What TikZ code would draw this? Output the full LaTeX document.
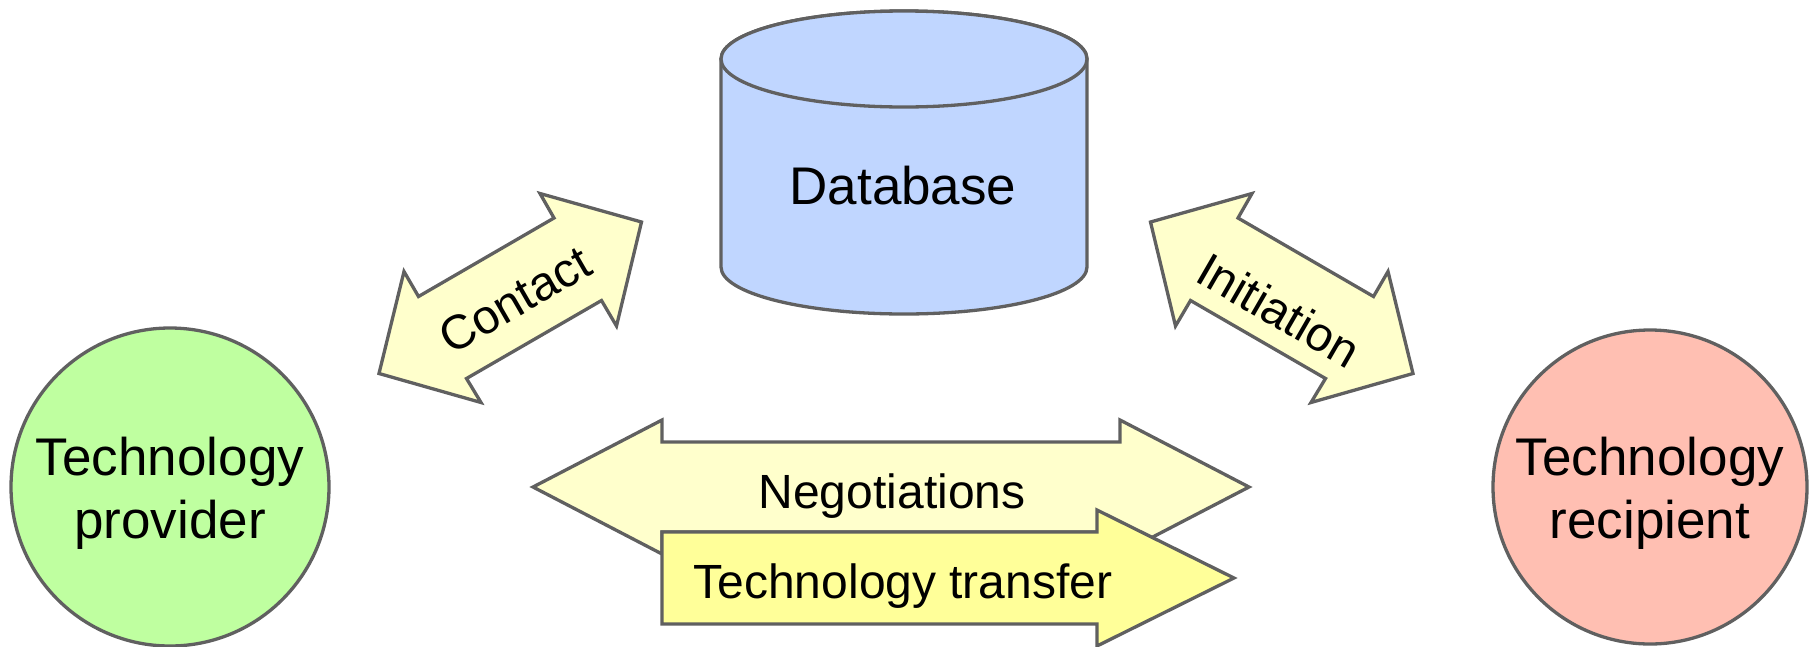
\documentclass[tikz,border=0pt]{standalone}
\usepackage{fontspec}
\setmainfont{Liberation Sans}
\definecolor{strk}{RGB}{96,96,96}
\definecolor{provgreen}{RGB}{191,255,160}
\definecolor{recsalmon}{RGB}{255,191,178}
\definecolor{dbblue}{RGB}{192,214,255}
\definecolor{lightyel}{RGB}{255,255,204}
\definecolor{strongyel}{RGB}{255,255,153}
\begin{document}
\begin{tikzpicture}[x=1pt,y=-1pt,
  shp/.style={draw=strk, line width=3.3pt, line join=miter},
  bigtxt/.style={font=\fontsize{53}{63}\selectfont, inner sep=0pt},
  armtxt/.style={font=\fontsize{48}{58}\selectfont, inner sep=0pt}]
\useasboundingbox (0,0) rectangle (1809,646);

% circles
\node[shp, circle, fill=provgreen, minimum size=318pt, inner sep=0pt] (prov) at (170,487) {};
\node[shp, circle, fill=recsalmon, minimum size=314pt, inner sep=0pt] (rec) at (1650,487) {};
\node[bigtxt, anchor=base] (provA) at (170,475) {Technology};
\node[bigtxt, anchor=base] (provB) at (170,538) {provider};
\node[bigtxt, anchor=base] (recA) at (1650,475) {Technology};
\node[bigtxt, anchor=base] (recB) at (1650,538) {recipient};

% database cylinder
\draw[shp, fill=dbblue] (721,59) -- (721,267)
  arc[start angle=180, end angle=0, x radius=183, y radius=47]
  -- (1087,59) arc[start angle=0, end angle=-180, x radius=183, y radius=48] -- cycle;
\draw[shp, fill=dbblue] (904,59) ellipse [x radius=183, y radius=48];
\node[bigtxt, anchor=base] (db) at (903,204) {Database};

% Contact arrow
\draw[shp, fill=lightyel] (641.5,222) -- (616.5,326) -- (601.5,300.5) -- (466.5,378.5)
  -- (481,402.5) -- (379,373.5) -- (404,271.5) -- (418.5,296.5) -- (554,218) -- (540,193.5) -- cycle;
\node[armtxt, rotate=30] (contact) at (515,300) {Contact};

% Initiation arrow
\draw[shp, fill=lightyel] (1150.5,222) -- (1175.5,326) -- (1190.5,300.5) -- (1325.5,378.5)
  -- (1311,402.5) -- (1413,373.5) -- (1388,271.5) -- (1373.5,296.5) -- (1238,218) -- (1252,193.5) -- cycle;
\node[armtxt, rotate=-30] (initiation) at (1279,310) {Initiation};

% Negotiations arrow
\draw[shp, fill=lightyel] (533,487) -- (662,420) -- (662,442) -- (1120,442) -- (1120,420)
  -- (1249,487) -- (1120,554) -- (1120,532) -- (662,532) -- (662,554) -- cycle;
\node[armtxt, anchor=base] (nego) at (892,508) {Negotiations};

% Technology transfer arrow
\draw[shp, fill=strongyel] (662,532) -- (1097,532) -- (1097,510) -- (1234,578)
  -- (1097,646) -- (1097,624) -- (662,624) -- cycle;
\node[armtxt, anchor=base] (transfer) at (903,598) {Technology transfer};
\end{tikzpicture}
\end{document}
